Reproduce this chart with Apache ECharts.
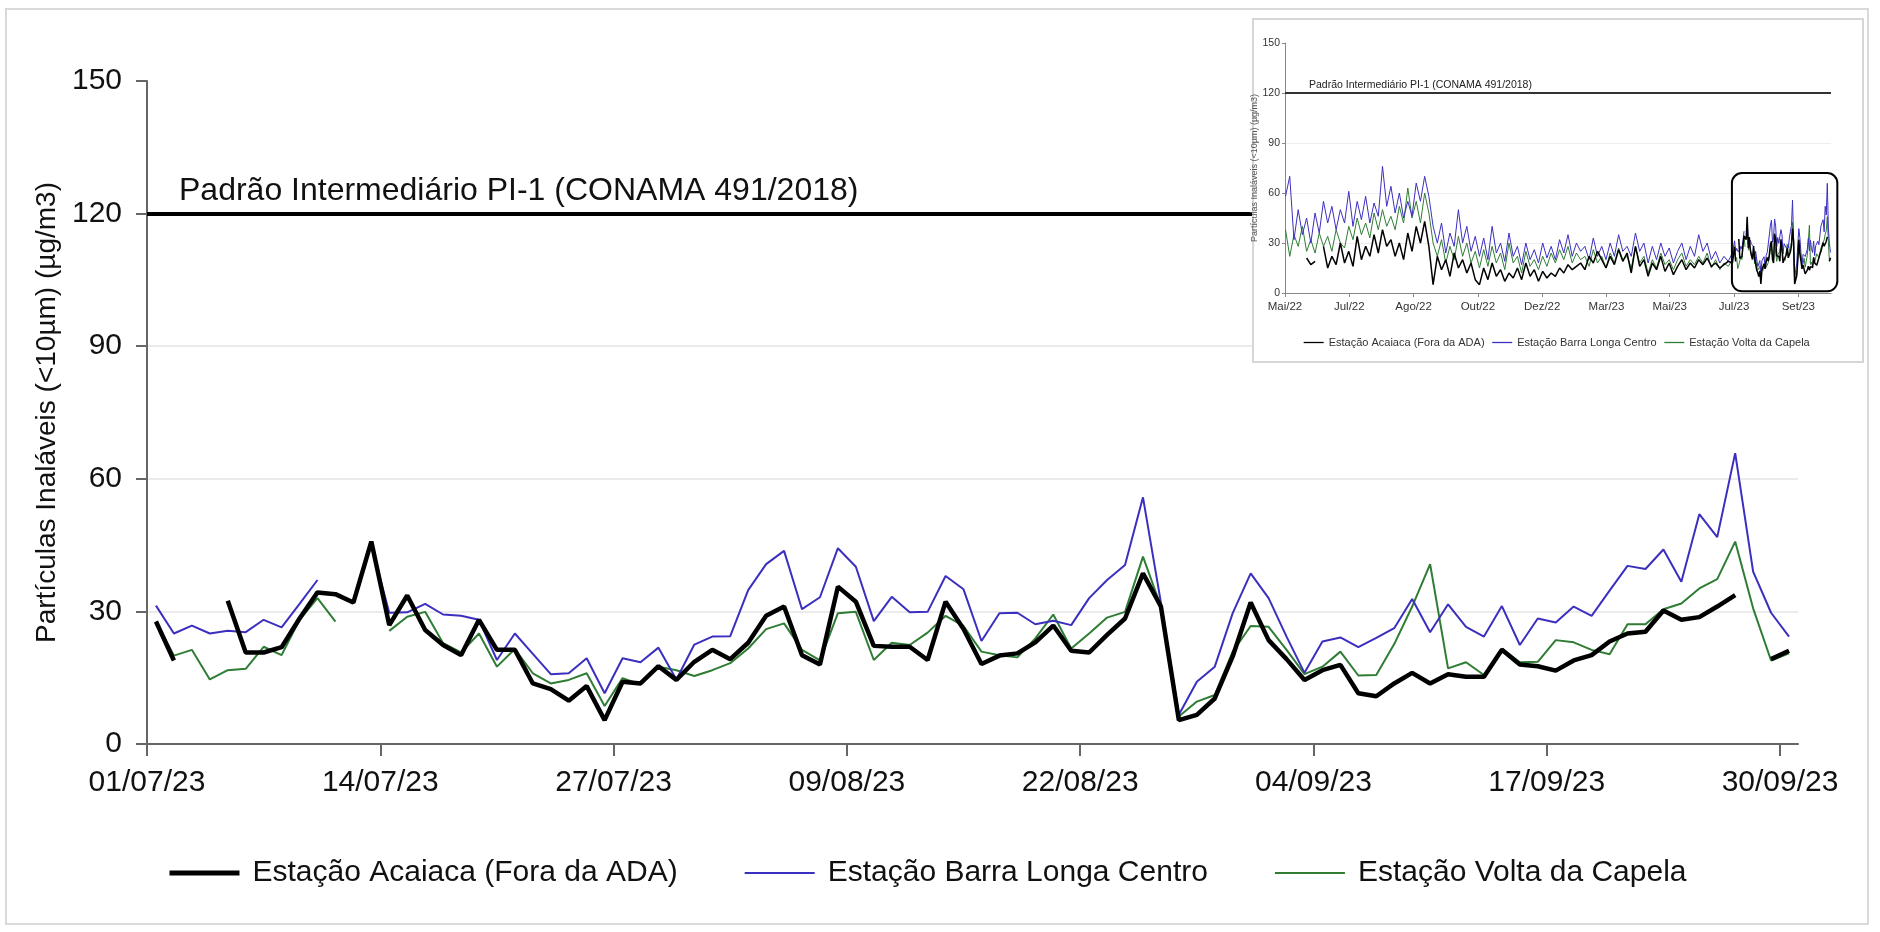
<!DOCTYPE html>
<html>
<head>
<meta charset="utf-8">
<script src="https://cdn.jsdelivr.net/npm/echarts@6/dist/echarts.min.js"></script>
<style>
  html, body { margin: 0; padding: 0; background: #fff; }
  #chart { width: 1880px; height: 932px; }
</style>
</head>
<body>
<div id="chart"></div>
<script>
// eixo x do gráfico principal (dias desde 01/07/23)
const tickLabels = ['01/07/23', '14/07/23', '27/07/23', '09/08/23', '22/08/23', '04/09/23', '17/09/23', '30/09/23'];
const tickDays = [0, 13, 26, 39, 52, 65, 78, 91];

const nomes = ['Estação Acaiaca (Fora da ADA)', 'Estação Barra Longa Centro', 'Estação Volta da Capela'];

// médias diárias 01/07/23 .. 30/09/23
const acaiaca = [
  27.7, 18.9, null, null, 32.4, 20.7, 20.7, 21.9, 28.4, 34.3,
  33.9, 32.0, 45.8, 26.9, 33.6, 25.8, 22.4, 20.1, 28.1, 21.3,
  21.3, 13.7, 12.4, 9.8, 13.1, 5.4, 14.1, 13.7, 17.6, 14.5,
  18.6, 21.3, 19.2, 22.9, 29.0, 31.1, 20.1, 18.0, 35.6, 32.2,
  22.2, 22.0, 22.0, 19.0, 32.2, 26.0, 18.1, 20.0, 20.5, 23.0,
  26.8, 21.1, 20.7, 24.7, 28.4, 38.6, 31.1, 5.4, 6.6, 10.3,
  19.8, 32.0, 23.5, 19.2, 14.5, 16.7, 17.9, 11.5, 10.8, 13.7,
  16.1, 13.7, 15.8, 15.2, 15.2, 21.3, 18.0, 17.6, 16.6, 18.9,
  20.1, 23.2, 25.0, 25.4, 30.2, 28.1, 28.7, 31.1, 33.7, null,
  19.2, 21.1
];
const barraLonga = [
  31.3, 25.0, 26.8, 25.0, 25.6, 25.3, 28.1, 26.4, 31.7, 37.1,
  null, null, 45.0, 29.7, 29.8, 31.7, 29.3, 29.0, 28.1, 19.0,
  25.0, 20.4, 15.8, 16.0, 19.4, 11.5, 19.4, 18.5, 21.8, 14.6,
  22.5, 24.3, 24.4, 34.8, 40.7, 43.7, 30.5, 33.2, 44.3, 40.1,
  27.8, 33.3, 29.8, 29.9, 38.0, 35.0, 23.3, 29.6, 29.7, 27.1,
  27.9, 26.9, 33.0, 37.1, 40.5, 55.8, 32.0, 6.6, 14.1, 17.5,
  29.6, 38.6, 33.0, 24.3, 16.1, 23.2, 24.1, 21.9, 24.0, 26.2,
  32.8, 25.3, 31.6, 26.5, 24.3, 31.2, 22.4, 28.4, 27.5, 31.1,
  29.0, 34.7, 40.3, 39.6, 44.0, 36.7, 52.0, 46.8, 65.8, 39.0,
  29.7, 24.3
];
const voltaCapela = [
  27.7, 20.0, 21.3, 14.6, 16.7, 17.0, 22.0, 20.1, 28.1, 33.0,
  27.7, null, null, 25.6, 28.8, 29.9, 22.8, 20.7, 25.0, 17.5,
  21.5, 16.0, 13.7, 14.5, 16.0, 8.6, 14.9, 13.5, 17.5, 16.7,
  15.4, 16.7, 18.3, 21.6, 26.0, 27.3, 21.3, 18.9, 29.6, 29.9,
  19.0, 22.9, 22.4, 25.2, 29.0, 26.7, 20.9, 20.1, 19.6, 23.9,
  29.3, 21.6, 25.0, 28.6, 29.9, 42.4, 31.1, 6.2, 9.6, 11.1,
  20.9, 26.7, 26.5, 21.3, 15.8, 17.5, 20.9, 15.5, 15.6, 22.6,
  31.1, 40.7, 17.1, 18.5, 15.6, 21.6, 18.5, 18.6, 23.5, 23.0,
  21.3, 20.3, 27.1, 27.1, 30.5, 31.8, 35.2, 37.3, 45.8, 30.7,
  18.9, 20.5
];

// gráfico menor (01/05/22 em diante), lido a cada 4 dias até 24/06/23
const insetMonths = ['Mai/22', 'Jul/22', 'Ago/22', 'Out/22', 'Dez/22', 'Mar/23', 'Mai/23', 'Jul/23', 'Set/23'];
const insetMonthDays = [0, 61, 122, 183, 244, 305, 365, 426, 487];
const insetStep = 4;
const insetStart = 426; // 01/07/23
const insetAcaiaca = [
  null, null, null, null, null, 21, 17, 19, null, 28,
  15, 22, 17, 30, 18, 25, 16, 34, 20, 28,
  22, 35, 24, 38, 28, 32, 22, 30, 20, 36,
  25, 40, 30, 43, 28, 5, 22, 14, 20, 10,
  24, 15, 20, 12, 18, 8, 5, 15, 8, 18,
  10, 14, 7, 12, 9, 15, 8, 18, 10, 14,
  7, 13, 9, 12, 10, 15, 12, 17, 14, 16,
  18, 14, 22, 18, 25, 20, 15, 22, 17, 26,
  19, 24, 12, 28, 16, 20, 10, 18, 14, 22,
  13, 18, 11, 16, 20, 14, 18, 15, 20, 17,
  21, 16, 18, 15, 17, 19, 18
];
const insetBarraLonga = [
  58, 70, 32, 50, 35, 45, 30, 48, 36, 55,
  42, 52, 38, 50, 42, 61, 40, 55, 44, 58,
  42, 54, 46, 76, 52, 64, 48, 60, 45, 55,
  46, 66, 55, 70, 58, 40, 30, 42, 24, 36,
  28, 50, 30, 40, 25, 34, 22, 33, 20, 40,
  24, 30, 19, 36, 22, 28, 17, 30, 20, 26,
  18, 30, 21, 28, 20, 32, 24, 35, 22, 30,
  25, 28, 20, 33, 22, 28, 20, 30, 22, 35,
  25, 28, 22, 36, 25, 30, 18, 28, 20, 30,
  22, 27, 18, 25, 30, 20, 28, 22, 35, 25,
  30, 20, 25, 18, 22, 19, 24
];
const insetVoltaCapela = [
  38, 22, 35, 28, 40, 25, 32, 24, 36, 28,
  34, 25, 38, 30, 27, 40, 32, 45, 35, 42,
  33, 48, 38, 50, 40, 46, 38, 52, 42, 63,
  45, 55, 42, 60, 48, 30, 22, 32, 18, 28,
  20, 34, 22, 30, 18, 25, 15, 26, 16, 28,
  18, 24, 14, 30, 18, 22, 12, 25, 16, 20,
  14, 22, 16, 24, 18, 26, 20, 28, 18, 24,
  20, 22, 16, 26, 18, 22, 15, 24, 18, 27,
  20, 22, 15, 28, 18, 22, 12, 20, 15, 24,
  17, 20, 14, 20, 24, 16, 20, 17, 22, 18,
  24, 15, 20, 14, 18, 16, 20
];

const cores = ['#000000', '#3b2fbf', '#2f7d34'];
const larguras = [4.5, 2, 2];
const fonte = '"Liberation Sans", Arial, sans-serif';

// ponto ao meio-dia de cada dia
function pontos(valores, inicio, passo) {
  return valores.map((v, i) => [inicio + i * passo + 0.5, v]);
}

const chart = echarts.init(document.getElementById('chart'));

const limiteLabel = 'Padrão Intermediário PI-1 (CONAMA 491/2018)';

function serieMain(idx, valores, z, comLimite) {
  const s = {
    name: nomes[idx],
    type: 'line',
    xAxisIndex: 0,
    yAxisIndex: 0,
    symbol: 'none',
    z: z,
    lineStyle: { color: cores[idx], width: larguras[idx] },
    itemStyle: { color: cores[idx] },
    data: pontos(valores, 0, 1)
  };
  if (comLimite) {
    s.markLine = {
      silent: true,
      symbol: ['none', 'none'],
      lineStyle: { color: '#000', width: 4, type: 'solid' },
      label: {
        show: true,
        position: 'insideStartTop',
        distance: [32, 6],
        formatter: limiteLabel,
        fontFamily: fonte,
        fontSize: 32,
        color: '#111'
      },
      data: [{ yAxis: 120 }]
    };
  }
  return s;
}

function serieInset(idx, grosso, valores, largura, comLimite) {
  const s = {
    name: nomes[idx],
    type: 'line',
    xAxisIndex: 1,
    yAxisIndex: 1,
    zlevel: 2,
    symbol: 'none',
    lineStyle: { color: cores[idx], width: largura },
    itemStyle: { color: cores[idx] },
    data: pontos(grosso, 0, insetStep).concat(pontos(valores, insetStart, 1))
  };
  if (comLimite) {
    s.markLine = {
      silent: true,
      zlevel: 2,
      z: 5,
      symbol: ['none', 'none'],
      lineStyle: { color: '#333', width: 2, type: 'solid' },
      label: {
        show: true,
        position: 'insideStartTop',
        distance: [24, 2],
        formatter: limiteLabel,
        fontFamily: fonte,
        fontSize: 10.5,
        color: '#222'
      },
      data: [{ yAxis: 120 }]
    };
  }
  return s;
}

const option = {
  animation: false,
  backgroundColor: '#fff',
  textStyle: { fontFamily: fonte },
  grid: [
    { left: 147, right: 82, top: 81, bottom: 188 },
    { left: 1285, width: 546, top: 43, height: 250, zlevel: 2 }
  ],
  legend: [
    {
      data: nomes.map((n, i) => ({ name: n, lineStyle: { width: i === 0 ? 5 : 2 } })),
      top: 853,
      left: 162,
      itemWidth: 70,
      itemHeight: 12,
      itemGap: 66,
      itemStyle: { opacity: 0 },
      textStyle: { fontSize: 30, color: '#111', fontFamily: fonte, padding: [0, 0, 0, 8] }
    },
    {
      data: nomes.map(n => ({ name: n, lineStyle: { width: 1.3 } })),
      top: 332,
      left: 1298,
      zlevel: 2,
      itemWidth: 20,
      itemHeight: 6,
      itemGap: 7,
      itemStyle: { opacity: 0 },
      textStyle: { fontSize: 11, color: '#333', fontFamily: fonte }
    }
  ],
  xAxis: [
    {
      type: 'value',
      gridIndex: 0,
      min: 0,
      max: 92,
      splitLine: { show: false },
      axisLine: { show: true, lineStyle: { color: '#666', width: 2 } },
      axisTick: { show: true, customValues: tickDays, length: 12, lineStyle: { color: '#666', width: 2 } },
      axisLabel: {
        customValues: tickDays,
        formatter: v => tickLabels[tickDays.indexOf(v)],
        fontSize: 30,
        color: '#111',
        margin: 24
      }
    },
    {
      type: 'value',
      gridIndex: 1,
      min: 0,
      max: 518,
      zlevel: 2,
      splitLine: { show: false },
      axisLine: { show: true, lineStyle: { color: '#888', width: 1 } },
      axisTick: { show: true, customValues: insetMonthDays, length: 4, lineStyle: { color: '#888' } },
      axisLabel: {
        customValues: insetMonthDays,
        formatter: v => insetMonths[insetMonthDays.indexOf(v)],
        fontSize: 11.5,
        color: '#333',
        margin: 8
      }
    }
  ],
  yAxis: [
    {
      type: 'value',
      gridIndex: 0,
      min: 0,
      max: 150,
      interval: 30,
      name: 'Partículas Inaláveis (<10µm) (µg/m3)',
      nameLocation: 'middle',
      nameGap: 76,
      nameTextStyle: { fontSize: 28, color: '#111', fontFamily: fonte },
      axisLine: { show: true, lineStyle: { color: '#666', width: 2 } },
      axisTick: { show: true, length: 11, lineStyle: { color: '#666', width: 2 } },
      axisLabel: { fontSize: 30, color: '#111', margin: 25 },
      splitLine: { show: true, showMaxLine: false, lineStyle: { color: '#ebebeb', width: 2 } }
    },
    {
      type: 'value',
      gridIndex: 1,
      min: 0,
      max: 150,
      interval: 30,
      zlevel: 2,
      name: 'Partículas Inaláveis (<10µm) (µg/m3)',
      nameLocation: 'middle',
      nameGap: 10,
      nameTextStyle: { fontSize: 9, color: '#555', fontFamily: fonte },
      axisLine: { show: true, lineStyle: { color: '#888', width: 1 } },
      axisTick: { show: true, length: 3, lineStyle: { color: '#888' } },
      axisLabel: { fontSize: 10.5, color: '#333', margin: 5 },
      splitLine: { show: true, showMaxLine: false, lineStyle: { color: '#eeeeee', width: 1 } }
    }
  ],
  series: [
    serieMain(2, voltaCapela, 2, false),
    serieMain(1, barraLonga, 3, false),
    serieMain(0, acaiaca, 4, true),
    serieInset(2, insetVoltaCapela, voltaCapela, 1, false),
    serieInset(1, insetBarraLonga, barraLonga, 1, false),
    serieInset(0, insetAcaiaca, acaiaca, 1.5, true)
  ]
};

chart.setOption(option);

// moldura, fundo do gráfico menor e destaque do período jul-set/23
const p1 = chart.convertToPixel({ xAxisIndex: 1, yAxisIndex: 1 }, [424, 72]);
const p2 = chart.convertToPixel({ xAxisIndex: 1, yAxisIndex: 1 }, [524, 1]);

chart.setOption({
  graphic: [
    {
      type: 'rect',
      silent: true,
      z: 100,
      shape: { x: 6, y: 9, width: 1862, height: 915 },
      style: { fill: 'none', stroke: '#d9d9d9', lineWidth: 2 }
    },
    {
      type: 'rect',
      silent: true,
      zlevel: 1,
      shape: { x: 1253, y: 19, width: 610, height: 343 },
      style: { fill: '#fff', stroke: '#d6d6d6', lineWidth: 2 }
    },
    {
      type: 'rect',
      silent: true,
      zlevel: 2,
      z: 10,
      shape: { x: p1[0], y: p1[1], width: p2[0] - p1[0], height: p2[1] - p1[1], r: 10 },
      style: { fill: 'none', stroke: '#000', lineWidth: 2 }
    }
  ]
});
</script>
</body>
</html>
